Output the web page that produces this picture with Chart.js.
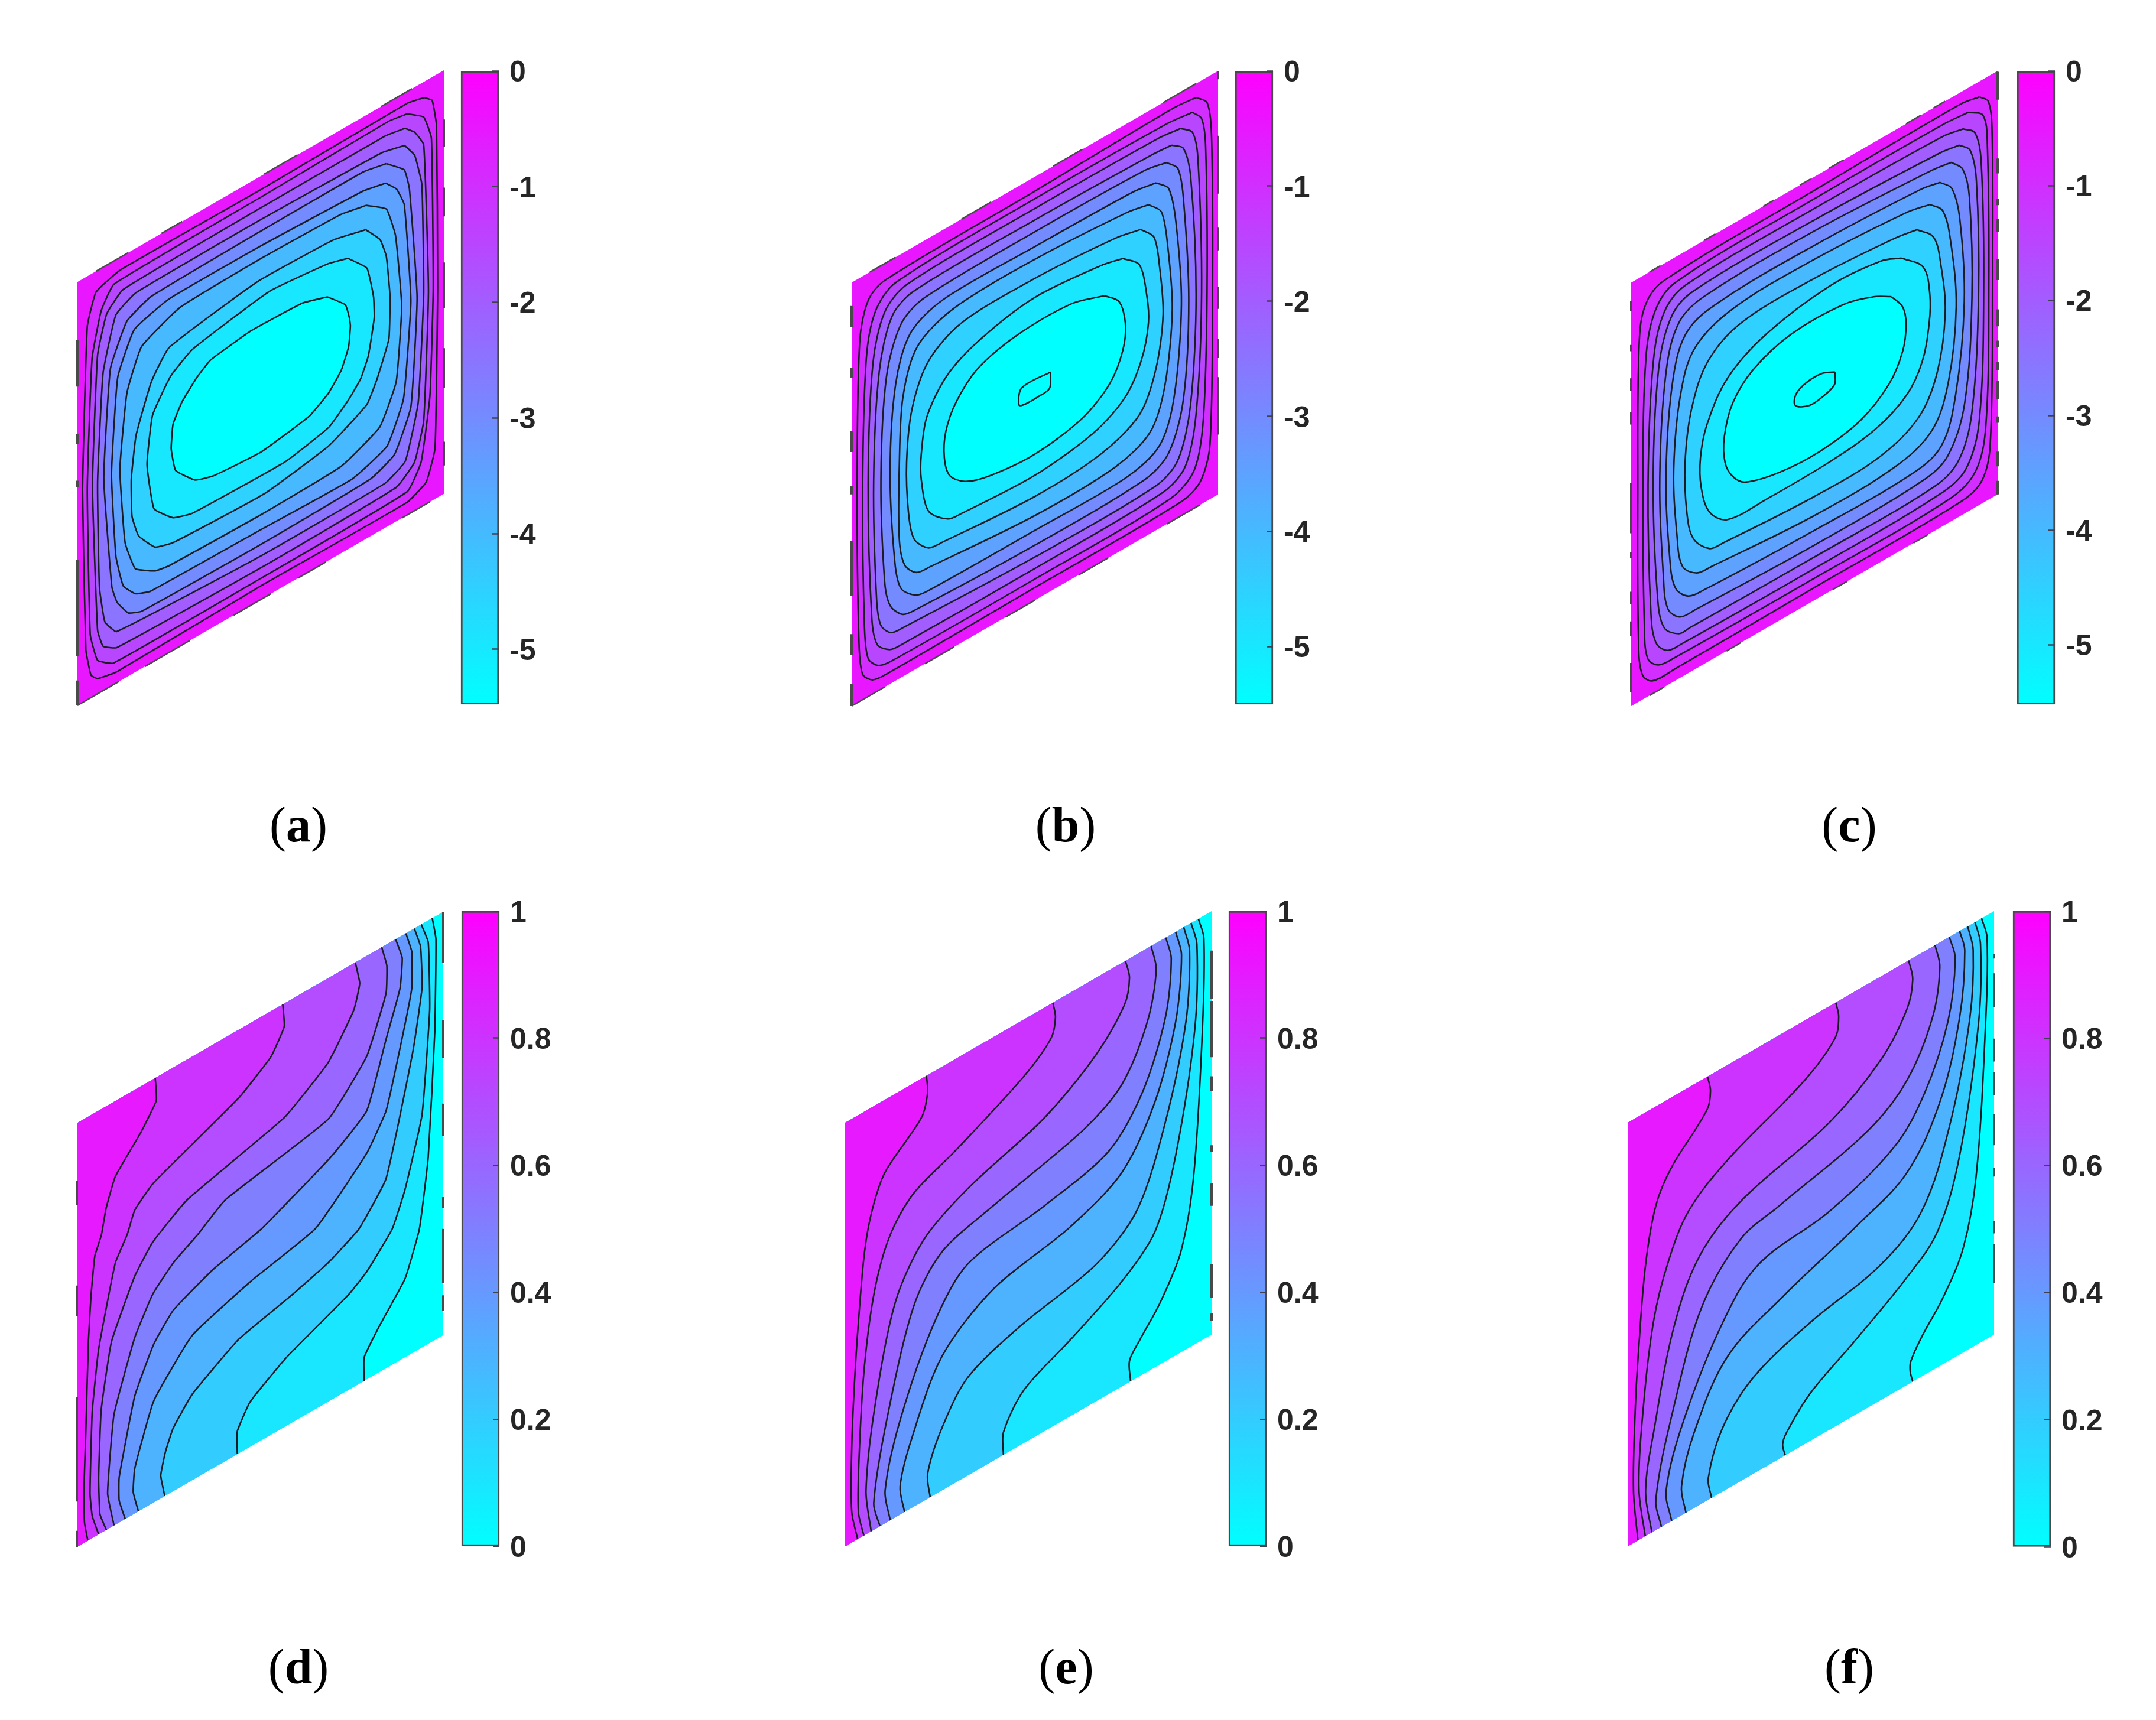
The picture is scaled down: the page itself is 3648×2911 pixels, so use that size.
<!DOCTYPE html>
<html>
<head>
<meta charset="utf-8">
<title>Contours</title>
<script src="https://cdn.jsdelivr.net/npm/chart.js@4/dist/chart.umd.min.js"></script>
<style>
    html, body { margin: 0; background: #fff; }
    #page { position: relative; width: 3648px; height: 2911px; overflow: hidden; background: #fff; }
    canvas { position: absolute; }
    .tag { position: absolute; width: 200px; margin-left: -100px; text-align: center; font: 84px/84px "Liberation Serif", serif; color: #000; }
</style>
</head>
<body>
<div id="page"></div>
<script>
// Contours in cavity coordinates [u, v]:
// u runs along the sloped side, v up the vertical side, both 0..1.

const ringsA = [
    [[.947,.962],[.968,.945],[.98,.88],[.983,.5],[.976,.12],[.952,.052],[.9,.03],[.5,.032],[.107,.026],[.055,.036],[.037,.053],[.023,.12],[.014,.5],[.027,.882],[.051,.951],[.118,.97],[.5,.968],[.9,.972]],
    [[.9,.947],[.945,.917],[.966,.857],[.971,.5],[.962,.25],[.938,.106],[.9,.055],[.5,.05],[.098,.051],[.055,.079],[.035,.15],[.027,.5],[.04,.8],[.065,.9],[.1,.945],[.5,.95],[.85,.955]],
    [[.894,.916],[.92,.894],[.945,.852],[.958,.5],[.945,.2],[.92,.115],[.87,.08],[.5,.075],[.107,.083],[.07,.105],[.055,.15],[.041,.5],[.055,.8],[.08,.885],[.125,.92],[.5,.925],[.84,.925]],
    [[.893,.876],[.92,.84],[.94,.76],[.945,.5],[.93,.25],[.895,.13],[.84,.105],[.5,.103],[.107,.121],[.075,.16],[.06,.25],[.055,.5],[.07,.75],[.105,.87],[.16,.895],[.5,.897],[.83,.89]],
    [[.843,.858],[.892,.819],[.906,.767],[.927,.5],[.91,.25],[.865,.16],[.8,.135],[.5,.13],[.175,.135],[.139,.149],[.108,.19],[.094,.233],[.072,.5],[.09,.75],[.135,.84],[.2,.865],[.5,.87],[.78,.87]],
    [[.841,.813],[.871,.784],[.892,.737],[.91,.5],[.89,.28],[.845,.19],[.75,.16],[.5,.165],[.2,.17],[.158,.185],[.125,.22],[.105,.3],[.093,.5],[.11,.72],[.155,.81],[.25,.835],[.5,.835],[.78,.825]],
    [[.788,.787],[.843,.751],[.868,.676],[.885,.5],[.87,.33],[.825,.245],[.72,.205],[.5,.2],[.25,.205],[.212,.212],[.158,.244],[.13,.32],[.116,.5],[.135,.67],[.175,.76],[.28,.8],[.5,.805],[.72,.8]],
    [[.787,.73],[.826,.687],[.843,.639],[.853,.54],[.85,.441],[.818,.363],[.79,.316],[.685,.27],[.51,.245],[.261,.254],[.212,.268],[.167,.317],[.149,.372],[.147,.461],[.16,.558],[.202,.664],[.25,.72],[.49,.755],[.7,.75]],
    [[.738,.687],[.79,.638],[.808,.562],[.81,.511],[.794,.429],[.773,.385],[.741,.353],[.686,.314],[.566,.292],[.314,.297],[.261,.313],[.209,.36],[.19,.474],[.205,.583],[.254,.65],[.314,.684],[.524,.716],[.685,.701]],
    [[.682,.624],[.731,.581],[.742,.545],[.745,.524],[.74,.477],[.72,.432],[.685,.395],[.633,.367],[.5,.348],[.37,.357],[.321,.372],[.268,.421],[.256,.478],[.261,.534],[.286,.575],[.324,.61],[.363,.634],[.475,.648],[.615,.643]]
];

const ringsB = [
    [[.94,.967],[.97,.94],[.982,.86],[.985,.5],[.978,.13],[.952,.055],[.9,.033],[.5,.03],[.1,.028],[.058,.033],[.03,.06],[.02,.14],[.015,.5],[.022,.85],[.045,.935],[.09,.96],[.5,.966],[.88,.973]],
    [[.93,.937],[.955,.91],[.966,.84],[.97,.5],[.96,.2],[.935,.09],[.87,.055],[.5,.05],[.11,.052],[.072,.06],[.045,.09],[.035,.17],[.03,.5],[.04,.8],[.065,.9],[.12,.94],[.5,.948],[.86,.945]],
    [[.898,.915],[.93,.89],[.945,.82],[.955,.5],[.94,.22],[.91,.11],[.85,.08],[.5,.075],[.14,.077],[.105,.081],[.07,.11],[.055,.18],[.045,.5],[.058,.78],[.09,.885],[.15,.92],[.5,.925],[.84,.922]],
    [[.873,.888],[.905,.865],[.925,.79],[.94,.5],[.925,.25],[.89,.135],[.83,.105],[.5,.102],[.14,.115],[.107,.12],[.08,.15],[.068,.22],[.06,.5],[.075,.75],[.11,.865],[.17,.895],[.5,.898],[.82,.892]],
    [[.859,.854],[.89,.825],[.905,.75],[.92,.5],[.905,.27],[.865,.165],[.8,.135],[.5,.13],[.18,.14],[.139,.147],[.105,.185],[.09,.25],[.08,.5],[.095,.73],[.135,.835],[.2,.865],[.5,.87],[.8,.865]],
    [[.831,.82],[.865,.79],[.885,.7],[.9,.5],[.88,.29],[.84,.195],[.75,.165],[.5,.165],[.21,.168],[.174,.175],[.135,.21],[.118,.28],[.105,.5],[.12,.7],[.16,.8],[.25,.835],[.5,.835],[.77,.83]],
    [[.81,.779],[.845,.745],[.862,.66],[.875,.5],[.855,.33],[.815,.24],[.72,.205],[.5,.2],[.215,.222],[.177,.227],[.145,.26],[.13,.33],[.13,.5],[.14,.66],[.18,.76],[.28,.8],[.5,.805],[.75,.79]],
    [[.789,.731],[.825,.695],[.84,.62],[.85,.5],[.83,.38],[.785,.295],[.68,.255],[.5,.245],[.25,.263],[.209,.269],[.17,.31],[.155,.38],[.15,.5],[.165,.62],[.21,.71],[.3,.755],[.5,.76],[.72,.745]],
    [[.74,.687],[.785,.65],[.805,.57],[.81,.5],[.79,.42],[.745,.355],[.66,.315],[.5,.295],[.3,.305],[.262,.311],[.21,.355],[.19,.44],[.19,.5],[.205,.58],[.26,.65],[.35,.69],[.5,.715],[.68,.7]],
    [[.69,.624],[.73,.59],[.747,.53],[.74,.47],[.705,.41],[.63,.365],[.5,.345],[.38,.355],[.311,.375],[.268,.41],[.253,.46],[.257,.52],[.285,.575],[.345,.625],[.45,.65],[.6,.65]],
    [[.543,.517],[.54,.48],[.507,.476],[.476,.476],[.457,.482],[.461,.517],[.49,.522]]
];

const ringsC = [
    [[.951,.963],[.975,.94],[.985,.86],[.986,.5],[.98,.13],[.958,.055],[.9,.033],[.5,.03],[.12,.028],[.057,.031],[.03,.06],[.02,.14],[.018,.5],[.022,.85],[.04,.93],[.09,.96],[.5,.968],[.9,.972]],
    [[.92,.942],[.96,.915],[.972,.84],[.976,.5],[.968,.18],[.94,.085],[.87,.055],[.5,.052],[.12,.055],[.074,.06],[.045,.09],[.036,.17],[.032,.5],[.04,.8],[.065,.9],[.12,.94],[.5,.948],[.85,.948]],
    [[.906,.91],[.938,.885],[.955,.81],[.962,.5],[.95,.2],[.915,.105],[.85,.08],[.5,.075],[.14,.078],[.099,.082],[.068,.115],[.054,.19],[.046,.5],[.06,.78],[.09,.885],[.15,.92],[.5,.925],[.85,.92]],
    [[.895,.877],[.925,.85],[.942,.77],[.948,.5],[.93,.23],[.895,.135],[.83,.105],[.5,.102],[.16,.105],[.13,.106],[.09,.14],[.072,.22],[.06,.5],[.075,.76],[.11,.865],[.17,.895],[.5,.898],[.84,.885]],
    [[.874,.847],[.905,.815],[.923,.74],[.93,.5],[.91,.26],[.865,.16],[.8,.135],[.5,.13],[.175,.14],[.133,.144],[.1,.18],[.088,.26],[.078,.5],[.095,.74],[.13,.84],[.2,.868],[.5,.872],[.82,.855]],
    [[.843,.815],[.875,.785],[.897,.7],[.909,.5],[.885,.29],[.845,.19],[.76,.165],[.5,.165],[.2,.175],[.154,.183],[.12,.22],[.105,.3],[.095,.5],[.115,.72],[.155,.81],[.25,.835],[.5,.838],[.79,.825]],
    [[.815,.777],[.85,.745],[.872,.66],[.887,.5],[.865,.33],[.82,.24],[.72,.205],[.5,.2],[.22,.22],[.179,.225],[.14,.26],[.125,.34],[.116,.5],[.135,.67],[.175,.76],[.28,.8],[.5,.805],[.75,.79]],
    [[.78,.735],[.825,.695],[.845,.62],[.857,.5],[.835,.37],[.785,.29],[.68,.25],[.5,.245],[.25,.26],[.214,.265],[.17,.31],[.152,.38],[.147,.5],[.165,.62],[.21,.71],[.3,.755],[.5,.76],[.72,.745]],
    [[.738,.689],[.797,.638],[.815,.565],[.813,.496],[.794,.416],[.752,.359],[.668,.321],[.542,.306],[.368,.304],[.263,.309],[.214,.351],[.191,.421],[.189,.492],[.207,.562],[.263,.643],[.368,.694],[.542,.721],[.682,.71]],
    [[.71,.612],[.741,.572],[.75,.527],[.741,.468],[.703,.408],[.626,.362],[.514,.344],[.403,.35],[.312,.373],[.277,.404],[.256,.448],[.254,.508],[.277,.577],[.333,.628],[.437,.66],[.577,.659],[.661,.636]],
    [[.556,.511],[.555,.482],[.521,.469],[.486,.467],[.448,.486],[.45,.512],[.479,.525],[.521,.525]]
];

const linesD = [
    [[.214,1],[.217,.946],[.175,.892],[.105,.822],[.08,.76],[.067,.703],[.049,.662],[.0385,.571],[.0315,.468],[.0245,.258],[.019,.116],[.021,.046],[.03,0]],
    [[.562,1],[.566,.946],[.529,.892],[.441,.839],[.21,.755],[.158,.716],[.137,.668],[.105,.618],[.0595,.437],[.042,.298],[.036,.108],[.042,.052],[.0595,0]],
    [[.76,1],[.772,.945],[.756,.89],[.686,.801],[.567,.731],[.301,.669],[.207,.616],[.158,.56],[.0945,.437],[.0665,.29],[.0595,.133],[.063,.046],[.0805,0]],
    [[.832,1],[.846,.95],[.844,.886],[.791,.763],[.686,.667],[.406,.617],[.329,.572],[.263,.539],[.207,.493],[.158,.415],[.1015,.262],[.084,.084],[.1015,0]],
    [[.87,1],[.888,.947],[.882,.878],[.844,.777],[.791,.634],[.693,.574],[.504,.499],[.371,.469],[.263,.427],[.21,.374],[.158,.277],[.1155,.106],[.1155,.052],[.132,0]],
    [[.898,1],[.914,.949],[.914,.862],[.886,.751],[.844,.608],[.791,.534],[.651,.426],[.476,.39],[.315,.342],[.21,.24],[.158,.106],[.154,.052],[.168,0]],
    [[.921,1],[.938,.949],[.942,.849],[.917,.711],[.844,.448],[.77,.366],[.686,.328],[.581,.3],[.441,.269],[.315,.203],[.263,.149],[.242,.104],[.229,.054],[.24,0]],
    [[.94,1],[.959,.949],[.963,.787],[.942,.549],[.896,.397],[.861,.321],[.791,.254],[.742,.225],[.571,.161],[.473,.106],[.438,.054],[.438,0]],
    [[.97,1],[.98,.946],[.977,.73],[.959,.441],[.935,.284],[.896,.186],[.826,.109],[.784,.055],[.784,0]]
];

const linesE = [
    [[.222,1],[.225,.958],[.208,.908],[.109,.829],[.074,.758],[.053,.669],[.036,.509],[.025,.366],[.018,.222],[.018,.073],[.034,0]],
    [[.567,1],[.574,.962],[.562,.919],[.488,.866],[.299,.783],[.187,.74],[.123,.674],[.081,.566],[.053,.402],[.039,.211],[.036,.064],[.051,0]],
    [[.765,1],[.776,.955],[.762,.897],[.684,.818],[.544,.74],[.334,.677],[.215,.617],[.137,.508],[.081,.289],[.057,.103],[.071,0]],
    [[.835,1],[.849,.938],[.825,.827],[.755,.713],[.649,.658],[.404,.602],[.264,.563],[.187,.473],[.116,.251],[.078,.063],[.095,0]],
    [[.875,1],[.89,.943],[.874,.812],[.811,.666],[.719,.573],[.544,.532],[.334,.499],[.243,.406],[.151,.225],[.109,.077],[.123,0]],
    [[.902,1],[.918,.938],[.902,.788],[.846,.628],[.755,.505],[.614,.447],[.404,.405],[.264,.316],[.18,.16],[.15,.066],[.162,0]],
    [[.924,1],[.94,.937],[.93,.774],[.874,.565],[.797,.396],[.684,.323],[.474,.28],[.334,.231],[.264,.147],[.225,.058],[.232,0]],
    [[.944,1],[.96,.942],[.954,.742],[.902,.472],[.846,.321],[.755,.248],[.614,.18],[.488,.125],[.432,.053],[.432,0]],
    [[.964,1],[.979,.947],[.975,.732],[.951,.398],[.916,.237],[.86,.146],[.804,.085],[.776,.05],[.779,0]]
];

const linesF = [
    [[.218,1],[.226,.963],[.217,.923],[.119,.834],[.077,.766],[.049,.641],[.031,.462],[.021,.319],[.016,.124],[.028,0]],
    [[.568,1],[.576,.963],[.566,.917],[.483,.859],[.273,.776],[.168,.71],[.112,.619],[.07,.493],[.038,.261],[.031,.116],[.048,0]],
    [[.767,1],[.778,.949],[.762,.887],[.692,.804],[.552,.726],[.308,.66],[.196,.587],[.126,.454],[.073,.243],[.049,.107],[.066,0]],
    [[.839,1],[.852,.942],[.832,.833],[.762,.719],[.657,.654],[.413,.597],[.308,.571],[.203,.465],[.126,.266],[.077,.073],[.092,0]],
    [[.878,1],[.894,.941],[.874,.802],[.811,.666],[.727,.579],[.552,.516],[.357,.487],[.259,.398],[.154,.223],[.105,.079],[.12,0]],
    [[.906,1],[.92,.947],[.906,.796],[.853,.625],[.762,.501],[.622,.443],[.427,.379],[.273,.312],[.182,.179],[.147,.068],[.159,0]],
    [[.928,1],[.943,.936],[.934,.781],[.881,.561],[.804,.392],[.692,.32],[.497,.279],[.343,.227],[.259,.15],[.22,.051],[.229,0]],
    [[.948,1],[.963,.941],[.958,.76],[.906,.47],[.846,.321],[.762,.254],[.622,.176],[.497,.111],[.434,.052],[.423,.029],[.43,0]],
    [[.966,1],[.981,.946],[.976,.731],[.951,.398],[.916,.247],[.86,.156],[.804,.095],[.773,.051],[.771,.028],[.778,0]]
];

// broken dark pieces along the cavity walls, [from, to] along each wall
const leftDashA = [[0,.059],[.117,.344],[.515,.531],[.617,.641],[.753,.863]];
const rightDashA = [[.067,.123],[.25,.344],[.439,.546],[.655,.723],[.82,.884]];
const topDashA = [[.05,.139],[.23,.286],[.51,.601],[.829,.913]];
const bottomDashA = [[0,.114],[.184,.307],[.426,.528],[.601,.678],[.885,.962]];

const leftDashB = [[0,.053],[.12,.17],[.26,.39],[.5,.52],[.6,.65],[.775,.798],[.895,.945]];
const rightDashB = [[.141,.277],[.322,.367],[.438,.49],[.576,.63],[.71,.847],[.98,1]];
const topDashB = [[.05,.12],[.3,.38],[.55,.63],[.85,.94]];
const bottomDashB = [[0,.09],[.2,.28],[.42,.5],[.62,.7],[.86,.95]];

const leftDashC = [[.033,.102],[.166,.2],[.24,.27],[.349,.364],[.408,.527],[.665,.695],[.745,.774],[.838,.853],[.933,.957]];
const rightDashC = [[0,.032],[.066,.101],[.169,.184],[.225,.269],[.293,.313],[.348,.363],[.397,.437],[.506,.556],[.62,.65],[.683,.698],[.758,.793],[.932,.998]];
const topDashC = [[.05,.08],[.2,.23],[.36,.39],[.46,.49],[.54,.58],[.75,.79],[.825,.857]];
const bottomDashC = [[.05,.09],[.26,.3],[.55,.59],[.77,.81]];

const leftDashD = [[0,.038],[.107,.353],[.545,.617],[.807,.865]];
const rightDashD = [[.057,.094],[.123,.251],[.3,.326],[.47,.547],[.654,.744],[.879,1]];
const rightDashE = [[.032,.051],[.086,.166],[.304,.358],[.432,.447],[.575,.61],[.655,.788],[.793,.907]];
const rightDashF = [[.121,.214],[.239,.269],[.373,.393],[.447,.521],[.566,.62],[.645,.699],[.773,.853],[.888,.899]];

const pressureTicks = [0, -1, -2, -3, -4, -5];
const psiTicks = [1, 0.8, 0.6, 0.4, 0.2, 0];
const barMinTop = [-5.476, -5.5, -5.516];

// layout of the six panels on the page
const PLOT_W = 620, PLOT_H = 1075, PAD = 40, BAR_W = 64, AXIS_W = 130;
const panels = [
    { name: 'a', rings: ringsA, tension: 0.12, left: leftDashA, right: rightDashA, top: topDashA, bottom: bottomDashA, x: 131, y: 119, barX: 780, barY: 120, barH: 1072, barMin: barMinTop[0], ticks: pressureTicks, tagX: 505, tagY: 1354 },
    { name: 'b', rings: ringsB, tension: 0.3, left: leftDashB, right: rightDashB, top: topDashB, bottom: bottomDashB, x: 1441, y: 120, barX: 2090, barY: 120, barH: 1072, barMin: barMinTop[1], ticks: pressureTicks, tagX: 1803, tagY: 1354 },
    { name: 'c', rings: ringsC, tension: 0.35, left: leftDashC, right: rightDashC, top: topDashC, bottom: bottomDashC, x: 2760, y: 120, barX: 3413, barY: 120, barH: 1072, barMin: barMinTop[2], ticks: pressureTicks, tagX: 3129, tagY: 1354 },
    { name: 'd', lines: linesD, tension: 0.12, left: leftDashD, right: rightDashD, x: 130, y: 1543, barX: 781, barY: 1542, barH: 1075, barMin: 0, ticks: psiTicks, tagX: 505, tagY: 2779 },
    { name: 'e', lines: linesE, tension: 0.3, left: [], right: rightDashE, x: 1430, y: 1542, barX: 2079, barY: 1542, barH: 1075, barMin: 0, ticks: psiTicks, tagX: 1804, tagY: 2779 },
    { name: 'f', lines: linesF, tension: 0.35, left: [], right: rightDashF, x: 2754, y: 1542, barX: 3406, barY: 1542, barH: 1076, barMin: 0, ticks: psiTicks, tagX: 3129, tagY: 2779 }
];

const COS30 = Math.cos(Math.PI / 6);

function toXY([u, v]) {
    return { x: u * COS30, y: v + u * 0.5 };
}

// t = 0 magenta, t = 1 cyan
function coolColor(t) {
    return `rgb(${Math.round(255 * (1 - t))},${Math.round(255 * t)},255)`;
}

function wallDashes(pieces, along) {
    const pts = [];
    pieces.forEach(([a, b]) => {
        pts.push(toXY(along(a)), toXY(along(b)), { x: NaN, y: NaN });
    });
    return pts;
}

function dashDataset(data, width) {
    return { data, showLine: true, pointRadius: 0, borderColor: '#4a4a4a', borderWidth: width, tension: 0, fill: false, clip: false };
}

function contourDatasets(panel) {
    const list = [];
    const corners = [[0, 0], [1, 0], [1, 1], [0, 1], [0, 0]];
    const base = { showLine: true, pointRadius: 0, clip: false };

    if (panel.rings) {
        list.push({ ...base, data: corners.map(toXY), fill: 'shape', backgroundColor: coolColor(1 / 11), borderWidth: 0, tension: 0 });
        panel.rings.forEach((ring, i) => {
            const closed = [...ring, ring[0]];
            list.push({
                ...base, data: closed.map(toXY), fill: 'shape',
                backgroundColor: coolColor(Math.min(i + 2, 11) / 11),
                borderColor: '#1c1c24', borderWidth: 2.6, tension: panel.tension
            });
        });
    } else {
        list.push({ ...base, data: corners.map(toXY), fill: 'shape', backgroundColor: coolColor(1), borderWidth: 0, tension: 0 });
        // lines are listed left to right, paint the largest area first
        [...panel.lines].reverse().forEach((line, i) => {
            const first = line[0], last = line[line.length - 1];
            const outline = [[0, 1], [0, 1], first, first, ...line.slice(1, -1), last, last, [0, 0], [0, 0]];
            list.push({
                ...base, data: outline.map(toXY), fill: 'shape',
                backgroundColor: coolColor(1 - (i + 1) / 10), borderWidth: 0, tension: panel.tension
            });
        });
        panel.lines.forEach(line => {
            list.push({ ...base, data: line.map(toXY), fill: false, borderColor: '#1c1c24', borderWidth: 2.6, tension: panel.tension });
        });
    }

    list.push(dashDataset(wallDashes(panel.left, a => [0, a]), 4));
    list.push(dashDataset(wallDashes(panel.right, a => [1, a]), 4));
    if (panel.top) list.push(dashDataset(wallDashes(panel.top, a => [a, 1]), 2.5));
    if (panel.bottom) list.push(dashDataset(wallDashes(panel.bottom, a => [a, 0]), 2.5));

    // Chart.js paints the first dataset last
    return list.reverse();
}

function addCanvas(left, top, width, height) {
    const canvas = document.createElement('canvas');
    canvas.width = width;
    canvas.height = height;
    canvas.style.left = left + 'px';
    canvas.style.top = top + 'px';
    canvas.style.width = width + 'px';
    canvas.style.height = height + 'px';
    document.getElementById('page').appendChild(canvas);
    return canvas;
}

function drawPlot(panel) {
    const canvas = addCanvas(panel.x - PAD, panel.y - PAD, PLOT_W + 2 * PAD, PLOT_H + 2 * PAD);
    new Chart(canvas, {
        type: 'scatter',
        data: { datasets: contourDatasets(panel) },
        options: {
            responsive: false,
            devicePixelRatio: 1,
            animation: false,
            layout: { padding: PAD },
            plugins: { legend: { display: false }, tooltip: { enabled: false } },
            scales: {
                x: { type: 'linear', display: false, min: 0, max: COS30 },
                y: { type: 'linear', display: false, min: 0, max: 1.5 }
            }
        }
    });
}

function drawBar(panel) {
    const barMax = panel.barMin === 0 ? 1 : 0;
    const canvas = addCanvas(panel.barX - PAD, panel.barY - PAD, BAR_W + AXIS_W + 2 * PAD, panel.barH + 2 * PAD);
    new Chart(canvas, {
        type: 'bar',
        data: {
            labels: [''],
            datasets: [{
                data: [[panel.barMin, barMax]],
                barPercentage: 1,
                categoryPercentage: 1,
                borderColor: '#4a4a4a',
                borderWidth: 3,
                borderSkipped: false,
                clip: false,
                backgroundColor: (ctx) => {
                    const area = ctx.chart.chartArea;
                    if (!area) return '#fff';
                    const grad = ctx.chart.ctx.createLinearGradient(0, area.top, 0, area.bottom);
                    grad.addColorStop(0, coolColor(0));
                    grad.addColorStop(1, coolColor(1));
                    return grad;
                }
            }]
        },
        options: {
            responsive: false,
            devicePixelRatio: 1,
            animation: false,
            layout: { padding: PAD },
            plugins: { legend: { display: false }, tooltip: { enabled: false } },
            scales: {
                x: { display: false },
                y: {
                    position: 'right',
                    min: panel.barMin,
                    max: barMax,
                    border: { display: false },
                    afterBuildTicks: (scale) => { scale.ticks = panel.ticks.map(value => ({ value })); },
                    afterFit: (scale) => {
                        scale.width = AXIS_W;
                        // keep the bar as tall as the plot, labels may stick out
                        scale.paddingTop = 0;
                        scale.paddingBottom = 0;
                    },
                    grid: { drawOnChartArea: false, tickLength: -11, tickWidth: 2.5, tickColor: '#404050', z: 1 },
                    ticks: {
                        autoSkip: false,
                        padding: 29,
                        labelOffset: 4,
                        color: '#262626',
                        font: { family: '"Liberation Sans", Arial, sans-serif', size: 50, weight: 'bold' },
                        callback: (value) => String(value)
                    }
                }
            }
        }
    });
}

function addTag(panel) {
    const tag = document.createElement('div');
    tag.className = 'tag';
    tag.style.left = panel.tagX + 'px';
    tag.style.top = panel.tagY + 'px';
    tag.append('(');
    const letter = document.createElement('b');
    letter.textContent = panel.name;
    tag.append(letter, ')');
    document.getElementById('page').appendChild(tag);
}

panels.forEach(panel => {
    drawPlot(panel);
    drawBar(panel);
    addTag(panel);
});
</script>
</body>
</html>
